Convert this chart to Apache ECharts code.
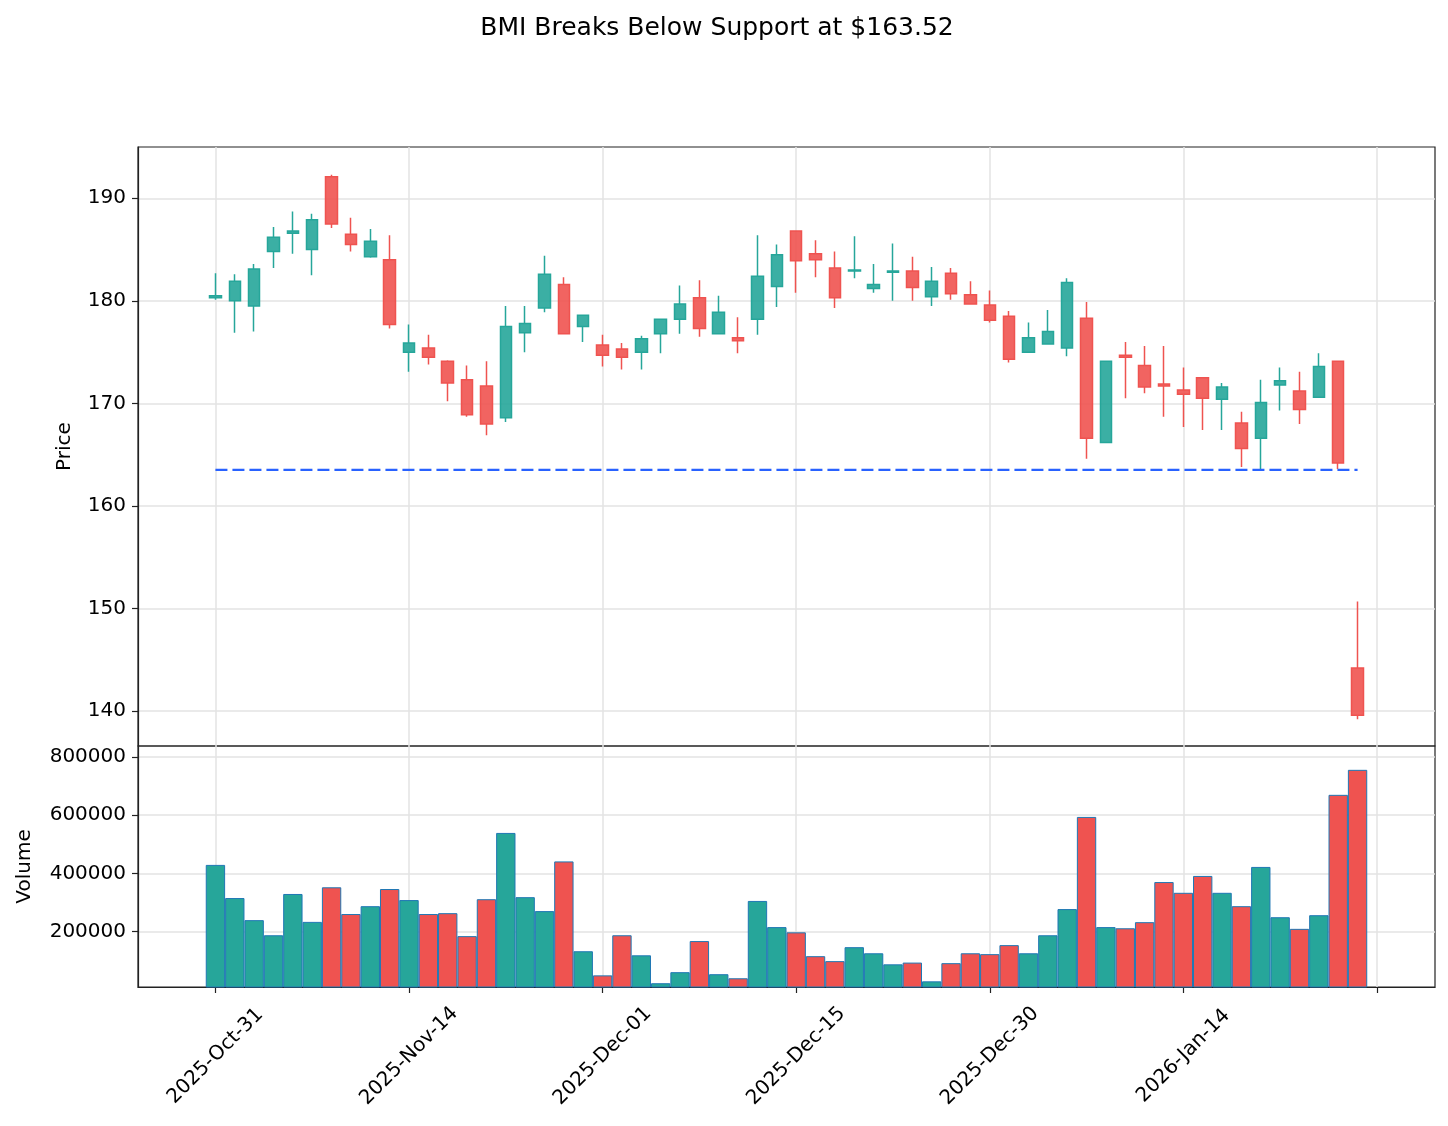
<!DOCTYPE html>
<html>
<head>
<meta charset="utf-8">
<title>BMI Breaks Below Support</title>
<script src="https://cdn.jsdelivr.net/npm/echarts@6/dist/echarts.min.js"></script>
<style>
  html, body { margin: 0; padding: 0; background: #fff; }
  #chart { width: 1448px; height: 1126px; }
</style>
</head>
<body>
<div id="chart"></div>
<script>
const dates = [
  '2025-Oct-31', '2025-Nov-03', '2025-Nov-04', '2025-Nov-05', '2025-Nov-06', '2025-Nov-07',
  '2025-Nov-10', '2025-Nov-11', '2025-Nov-12', '2025-Nov-13', '2025-Nov-14',
  '2025-Nov-17', '2025-Nov-18', '2025-Nov-19', '2025-Nov-20', '2025-Nov-21',
  '2025-Nov-24', '2025-Nov-25', '2025-Nov-26', '2025-Nov-28', '2025-Dec-01',
  '2025-Dec-02', '2025-Dec-03', '2025-Dec-04', '2025-Dec-05',
  '2025-Dec-08', '2025-Dec-09', '2025-Dec-10', '2025-Dec-11', '2025-Dec-12', '2025-Dec-15',
  '2025-Dec-16', '2025-Dec-17', '2025-Dec-18', '2025-Dec-19',
  '2025-Dec-22', '2025-Dec-23', '2025-Dec-24', '2025-Dec-26',
  '2025-Dec-29', '2025-Dec-30', '2025-Dec-31', '2026-Jan-02',
  '2026-Jan-05', '2026-Jan-06', '2026-Jan-07', '2026-Jan-08', '2026-Jan-09',
  '2026-Jan-12', '2026-Jan-13', '2026-Jan-14', '2026-Jan-15', '2026-Jan-16',
  '2026-Jan-20', '2026-Jan-21', '2026-Jan-22', '2026-Jan-23', '2026-Jan-26',
  '2026-Jan-27', '2026-Jan-28'
]

const opens = [
  180.3, 180.0, 179.5, 184.8, 186.6, 185.0, 192.1, 186.5, 184.3, 184.0,
  175.0, 175.4, 174.1, 172.3, 171.7, 168.6, 176.9, 179.3, 181.6, 177.5,
  175.7, 175.3, 175.0, 176.8, 178.2, 180.3, 176.8, 176.4, 178.2, 181.4,
  186.8, 184.6, 183.2, 182.9, 181.2, 182.8, 182.9, 180.4, 182.7, 180.6,
  179.6, 178.5, 175.0, 175.8, 175.4, 178.3, 166.2, 174.7, 173.7, 171.9,
  171.3, 172.5, 170.4, 168.1, 166.6, 171.8, 171.2, 170.6, 174.1, 144.2
]
const closes = [
  180.5, 181.9, 183.1, 186.2, 186.8, 187.9, 187.5, 185.5, 185.8, 177.7,
  175.9, 174.5, 172.0, 168.9, 168.0, 177.5, 177.8, 182.6, 176.8, 178.6,
  174.7, 174.5, 176.3, 178.2, 179.7, 177.3, 178.9, 176.1, 182.4, 184.5,
  183.9, 184.0, 180.3, 183.0, 181.6, 182.9, 181.3, 181.9, 180.7, 179.7,
  178.1, 174.3, 176.4, 177.0, 181.8, 166.6, 174.1, 174.5, 171.6, 171.7,
  170.9, 170.5, 171.6, 165.6, 170.1, 172.2, 169.4, 173.6, 164.2, 139.6
]
const lows = [
  180.1, 176.9, 177.0, 183.2, 184.6, 182.5, 187.1, 184.8, 184.2, 177.3,
  173.1, 173.8, 170.2, 168.7, 166.9, 168.2, 175.0, 178.9, 176.8, 176.0,
  173.6, 173.3, 173.3, 174.9, 176.8, 176.5, 176.8, 174.9, 176.7, 179.4,
  180.8, 182.3, 179.3, 182.2, 180.8, 180.0, 180.0, 179.5, 180.1, 179.7,
  177.9, 174.0, 175.0, 175.8, 174.6, 164.6, 166.2, 170.5, 171.0, 168.7,
  167.7, 167.4, 167.4, 163.8, 163.4, 169.3, 168.0, 170.6, 163.6, 139.2
]
const highs = [
  182.7, 182.6, 183.6, 187.2, 188.7, 188.5, 192.3, 188.1, 187.0, 186.4,
  177.7, 176.7, 174.2, 173.7, 174.1, 179.5, 179.5, 184.4, 182.3, 178.6,
  176.7, 175.9, 176.6, 178.2, 181.5, 182.0, 180.5, 178.4, 186.4, 185.5,
  186.8, 185.9, 184.8, 186.3, 183.6, 185.6, 184.3, 183.3, 183.2, 181.9,
  181.0, 179.0, 177.9, 179.1, 182.2, 179.9, 174.1, 176.0, 175.6, 175.6,
  173.5, 172.5, 172.0, 169.2, 172.3, 173.5, 173.1, 174.9, 174.1, 150.7
]
const volumes = [
  429000, 315000, 239000, 187000, 329000, 233000, 352000, 260000, 287000, 346000,
  308000, 260000, 263000, 184000, 311000, 539000, 318000, 270000, 441000, 132000,
  49000, 187000, 118000, 22000, 60000, 167000, 53000, 39000, 305000, 215000,
  197000, 115000, 98000, 146000, 125000, 87000, 93000, 28500, 91000, 125000,
  122000, 153000, 125000, 187000, 277000, 594000, 215000, 211000, 232000, 370000,
  333000, 391000, 333000, 287000, 422000, 249000, 209000, 256000, 670000, 756000
]
const supportLevel = 163.52
const priceTicks = [140, 150, 160, 170, 180, 190]
const volumeTicks = [200000, 400000, 600000, 800000]

const UP = '#26a69a'
const DOWN = '#ef5350'
const FONT = 'DejaVu Sans'
const PAD_LEFT = 4
const PAD_RIGHT = 4

// pad the category axis so the candles sit inside the frame like the original
var categories = []
for (let k = -PAD_LEFT; k < dates.length + PAD_RIGHT; k++) {
  categories.push(k >= 0 && k < dates.length ? dates[k] : '_' + k)
}
const every10 = (index) => (index - PAD_LEFT) % 10 === 0

var candles = dates.map((d, i) => [i + PAD_LEFT, opens[i], closes[i], lows[i], highs[i]])
var volumeBars = dates.map((d, i) => ({
  value: [i + PAD_LEFT, volumes[i]],
  itemStyle: { color: closes[i] >= opens[i] ? UP : DOWN }
}))

const gridColor = '#e3e3e3'
const tickText = { color: '#000', fontSize: 20, fontFamily: FONT }
const axisDark = { color: '#222', width: 1.2 }

function valueAxis(gridIndex, min, max, ticks, name, nameGap) {
  return {
    type: 'value',
    gridIndex: gridIndex,
    min: min,
    max: max,
    name: name,
    nameLocation: 'middle',
    nameGap: nameGap,
    nameTextStyle: { color: '#000', fontSize: 20, fontFamily: FONT },
    axisLine: { show: true, lineStyle: axisDark },
    axisTick: { show: true, length: 6, customValues: ticks, lineStyle: axisDark },
    axisLabel: Object.assign({ margin: 12, customValues: ticks, formatter: (v) => String(v) }, tickText),
    splitLine: { show: true, lineStyle: { color: gridColor, width: 1.5 } }
  }
}

var chart = echarts.init(document.getElementById('chart'), null, { renderer: 'canvas' })

chart.setOption({
  animation: false,
  backgroundColor: '#fff',
  title: {
    text: 'BMI Breaks Below Support at $163.52',
    left: 712,
    top: 11,
    textAlign: 'center',
    textStyle: { color: '#000', fontSize: 25, fontWeight: 'normal', fontFamily: FONT }
  },
  grid: [
    { left: 138, top: 147, width: 1297, height: 599, show: true, borderColor: '#222', borderWidth: 1.2, backgroundColor: 'transparent' },
    { left: 138, top: 746, width: 1297, height: 241, show: true, borderColor: '#222', borderWidth: 1.2, backgroundColor: 'transparent' }
  ],
  xAxis: [{
    type: 'category',
    gridIndex: 0,
    data: categories,
    boundaryGap: false,
    axisLine: { show: false },
    axisTick: { show: false },
    axisLabel: { show: false },
    splitLine: { show: true, interval: every10, lineStyle: { color: gridColor, width: 1.5 } }
  }, {
    type: 'category',
    gridIndex: 1,
    data: categories,
    boundaryGap: false,
    axisLine: { show: true, lineStyle: axisDark },
    axisTick: { show: true, interval: every10, length: 6, lineStyle: axisDark },
    axisLabel: Object.assign({
      interval: every10,
      rotate: 45,
      align: 'center',
      verticalAlign: 'middle',
      margin: 69,
      formatter: (v) => v.charAt(0) === '_' ? '' : v
    }, tickText),
    splitLine: { show: true, interval: every10, lineStyle: { color: gridColor, width: 1.5 } }
  }],
  yAxis: [
    valueAxis(0, 136.6, 195, priceTicks, 'Price', 63),
    valueAxis(1, 9000, 838000, volumeTicks, 'Volume', 103)
  ],
  series: [{
    type: 'candlestick',
    xAxisIndex: 0,
    yAxisIndex: 0,
    data: candles,
    encode: { x: 0, y: [1, 2, 3, 4] },
    barWidth: 12,
    itemStyle: {
      color: 'rgba(38,166,154,0.9)',
      color0: 'rgba(239,83,80,0.9)',
      borderColor: UP,
      borderColor0: DOWN,
      borderWidth: 1.5
    }
  }, {
    type: 'line',
    xAxisIndex: 0,
    yAxisIndex: 0,
    data: [[PAD_LEFT, supportLevel], [PAD_LEFT + dates.length - 1, supportLevel]],
    symbol: 'none',
    silent: true,
    lineStyle: { color: '#2962ff', width: 2.2, type: [12, 5] }
  }, {
    type: 'bar',
    xAxisIndex: 1,
    yAxisIndex: 1,
    data: volumeBars,
    barWidth: '100%',
    itemStyle: { borderColor: '#1f77b4', borderWidth: 1 }
  }]
})
</script>
</body>
</html>
